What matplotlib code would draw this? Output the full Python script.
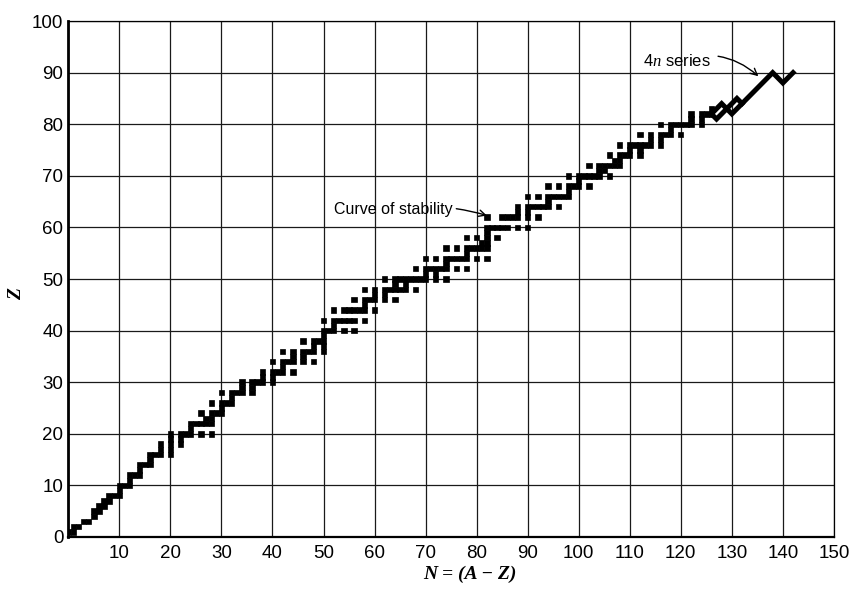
import matplotlib
matplotlib.use("Agg")
import matplotlib.pyplot as plt

# stable nuclides: mass numbers for each element, Z = 1 .. 83
stable_A = [
    [1, 2], [3, 4], [6, 7], [9], [10, 11], [12, 13], [14, 15], [16, 17, 18],
    [19], [20, 21, 22], [23], [24, 25, 26], [27], [28, 29, 30], [31],
    [32, 33, 34, 36], [35, 37], [36, 38, 40], [39, 41], [40, 42, 43, 44, 46, 48],
    [45], [46, 47, 48, 49, 50], [50, 51], [50, 52, 53, 54], [55], [54, 56, 57, 58],
    [59], [58, 60, 61, 62, 64], [63, 65], [64, 66, 67, 68, 70], [69, 71],
    [70, 72, 73, 74, 76], [75], [74, 76, 77, 78, 80, 82], [79, 81],
    [78, 80, 82, 83, 84, 86], [85, 87], [84, 86, 87, 88], [89], [90, 91, 92, 94, 96],
    [93], [92, 94, 95, 96, 97, 98, 100], [], [96, 98, 99, 100, 101, 102, 104],
    [103], [102, 104, 105, 106, 108, 110], [107, 109],
    [106, 108, 110, 111, 112, 113, 114, 116], [113, 115],
    [112, 114, 115, 116, 117, 118, 119, 120, 122, 124], [121, 123],
    [120, 122, 123, 124, 125, 126, 128, 130], [127],
    [124, 126, 128, 129, 130, 131, 132, 134, 136], [133],
    [130, 132, 134, 135, 136, 137, 138], [138, 139], [136, 138, 140, 142], [141],
    [142, 143, 144, 145, 146, 148, 150], [], [144, 147, 148, 149, 150, 152, 154],
    [151, 153], [152, 154, 155, 156, 157, 158, 160], [159],
    [156, 158, 160, 161, 162, 163, 164], [165], [162, 164, 166, 167, 168, 170],
    [169], [168, 170, 171, 172, 173, 174, 176], [175, 176],
    [174, 176, 177, 178, 179, 180], [180, 181], [180, 182, 183, 184, 186],
    [185, 187], [184, 186, 187, 188, 189, 190, 192], [191, 193],
    [190, 192, 194, 195, 196, 198], [197], [196, 198, 199, 200, 201, 202, 204],
    [203, 205], [204, 206, 207, 208], [209],
]

# 4n (thorium) decay series, main path and side branches
chain_N = [142, 140, 139, 138, 136, 134, 132, 130, 129, 128, 126]
chain_Z = [90, 88, 89, 90, 88, 86, 84, 82, 83, 84, 82]
branch_N = [132, 131, 129, 127, 126]
branch_Z = [84, 85, 83, 81, 82]

x_ticks = list(range(0, 151, 10))
x_tick_labels = [""] + [str(v) for v in x_ticks[1:]]
y_ticks = list(range(0, 101, 10))

N_vals, Z_vals = [], []
for z, masses in enumerate(stable_A, start=1):
    for a in masses:
        N_vals.append(a - z)
        Z_vals.append(z)

plt.rcParams["font.family"] = ["Liberation Sans", "DejaVu Sans"]
plt.rcParams["mathtext.fontset"] = "custom"
plt.rcParams["mathtext.it"] = "Liberation Serif:italic"
plt.rcParams["mathtext.rm"] = "Liberation Serif"

fig = plt.figure(figsize=(8.54, 6.01), dpi=100)
ax = fig.add_axes([0.080, 0.1065, 0.8965, 0.8585])

ax.bar(N_vals, 1.05, width=1.05, bottom=[z - 0.525 for z in Z_vals],
       color="black", edgecolor="black", linewidth=0.5, zorder=3)

ax.plot(chain_N, chain_Z, color="black", lw=3.6, solid_joinstyle="miter", zorder=3)
ax.plot(branch_N, branch_Z, color="black", lw=3.6, solid_joinstyle="miter", zorder=3)

ax.set_xlim(0, 150)
ax.set_ylim(0, 100)
ax.set_xticks(x_ticks)
ax.set_xticklabels(x_tick_labels)
ax.set_yticks(y_ticks)
ax.tick_params(length=0, labelsize=13.5)
ax.tick_params(axis="x", pad=6)
ax.tick_params(axis="y", pad=3.5)
ax.grid(True, color="#1a1a1a", lw=0.9)
ax.set_axisbelow(True)
for side in ("top", "right"):
    ax.spines[side].set_linewidth(0.9)
ax.spines["left"].set_linewidth(2.0)
ax.spines["bottom"].set_linewidth(1.6)

ax.set_xlabel("N = (A \u2212 Z)", family="Liberation Serif", style="italic",
              weight="bold", fontsize=14, va="center")
ax.xaxis.set_label_coords(0.525, -0.072)
ax.set_ylabel("Z", family="Liberation Serif", style="italic",
              weight="bold", fontsize=14)
ax.yaxis.set_label_coords(-0.056, 0.47)

ax.annotate("Curve of stability", xy=(82.0, 62.3), xytext=(75.2, 63.4),
            ha="right", va="center", fontsize=11.5,
            arrowprops=dict(arrowstyle="->", lw=1.0, color="black",
                            shrinkA=1, shrinkB=0,
                            connectionstyle="arc3,rad=-0.12"))
ax.annotate("4$n$ series", xy=(135.2, 89.3), xytext=(119.3, 92.2),
            ha="center", va="center", fontsize=12,
            arrowprops=dict(arrowstyle="->", lw=1.0, color="black",
                            shrinkA=3, shrinkB=0,
                            connectionstyle="arc3,rad=-0.3"))

fig.savefig("out.png", dpi=100, facecolor="white")
